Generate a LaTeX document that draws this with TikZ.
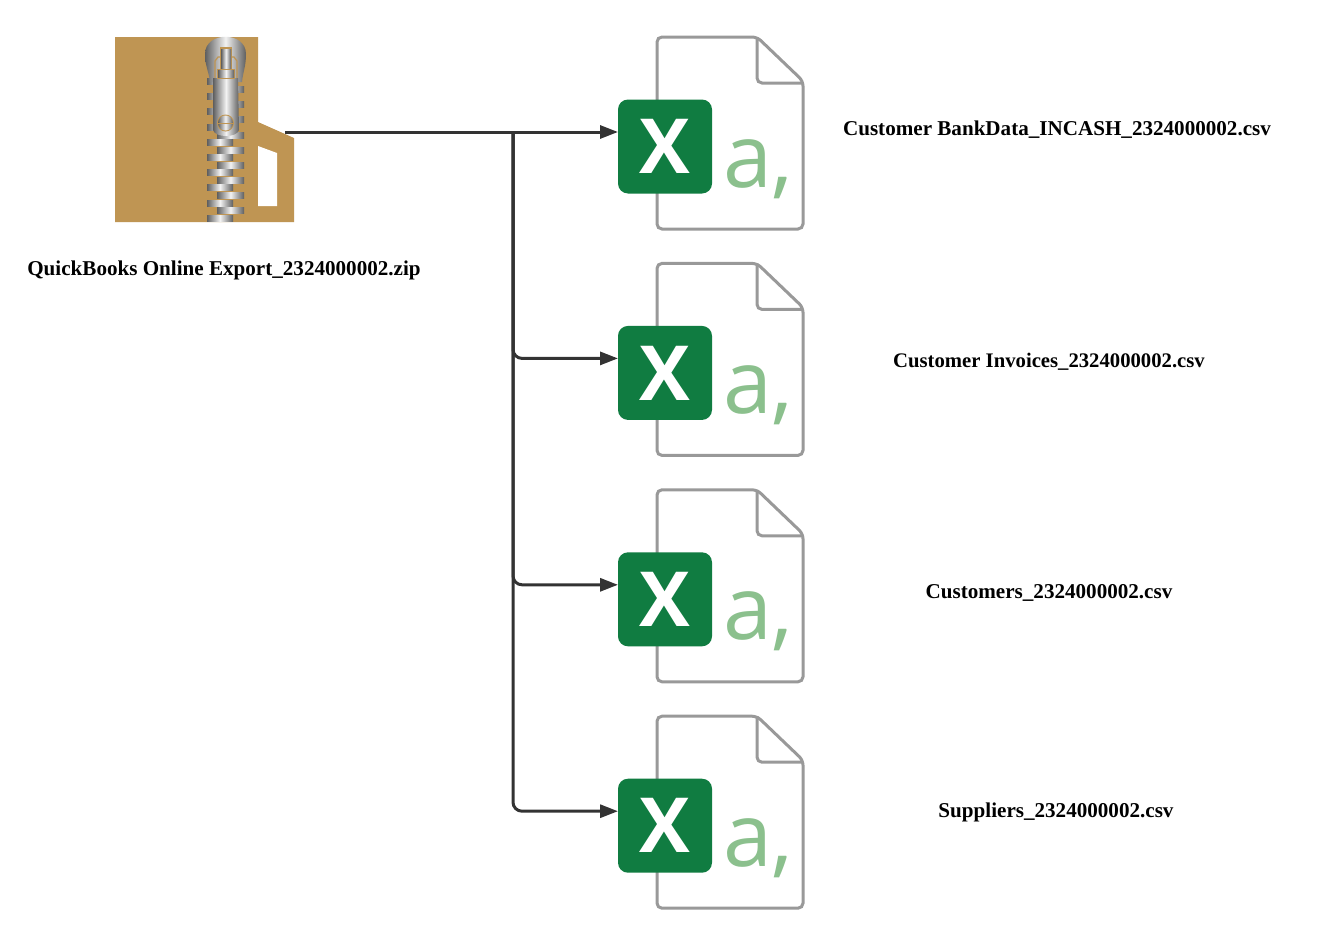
\documentclass[tikz,border=0pt]{standalone}
\usepackage{fontspec}
\setmainfont{Liberation Serif}
\newfontfamily\iconfont{Open Sans}
\usetikzlibrary{arrows.meta}
\definecolor{zipbrown}{HTML}{BF9553}
\definecolor{xlgreen}{HTML}{107C41}
\definecolor{xllight}{HTML}{8BC08D}
\definecolor{docgray}{HTML}{999999}
\definecolor{linkgray}{HTML}{333333}
\definecolor{metaldark}{HTML}{5F5F5F}
\definecolor{metallight}{HTML}{F2F2F2}
\tikzset{
  metal/.style={left color=metaldark,right color=metaldark,middle color=metallight,draw=none},
  link/.style={draw=linkgray,line width=3pt,-{Triangle[length=18pt,width=13pt]}},
  docpage/.style={draw=docgray,line width=3pt,rounded corners=5pt,fill=white},
  xlbox/.style={fill=xlgreen,rounded corners=10pt,minimum width=94pt,minimum height=94pt,inner sep=0pt},
  filename/.style={font=\bfseries\fontsize{21.1}{24}\selectfont,inner sep=0pt}
}
\begin{document}
\begin{tikzpicture}[x=1pt,y=-1pt]
  \useasboundingbox[fill=white] (0,0) rectangle (1323,945);
  % the zip folder
  \fill[zipbrown] (115,37) -- (258,37) -- (258,122) -- (294,138) -- (294,222) -- (115,222) -- cycle;
  \fill[white] (258,146) -- (277,153) -- (277,206) -- (258,206) -- cycle;
  \foreach \y in {78,93,108,124,139,154,169,184,200,215}
    \shade[metal] (207,\y) rectangle (233,\y+6.5);
  \foreach \y in {86,101,116,132,147,162,177,192,207}
    \shade[metal] (217,\y) rectangle (244,\y+6.5);
  \shade[metal] (205,54) .. controls (205,31) and (246,31) .. (246,54)
    .. controls (246,66) and (243,72) .. (242,82) -- (210,82) .. controls (209,72) and (205,66) .. (205,54) -- cycle;
  \draw[zipbrown,line width=1.2pt] (215,78) -- (215,61) -- (218,57) -- (234,57) -- (237,61) -- (237,78);
  \fill[zipbrown] (220,47) rectangle (232,69);
  \shade[metal] (221,49) rectangle (231,68);
  \shade[metal] (213,78) -- (238,78) -- (239,130) .. controls (238,134) and (232,136) .. (226,136)
    .. controls (220,136) and (214,134) .. (213,130) -- cycle;
  \fill[zipbrown] (217,69) rectangle (235,78.5);
  \shade[metal] (218,70) rectangle (234,77.5);
  \fill[zipbrown] (225.5,123) circle (8.5);
  \shade[metal] (225.5,123) circle (7.5);
  \fill[zipbrown] (217,122.5) rectangle (234,124);
  \coordinate (zipout) at (285,132);
  \node[filename] (zipname) at (224,270) {QuickBooks Online Export\_2324000002.zip};
  % the four csv files
  \foreach \i/\top/\txt/\tx/\ty in {%
    1/37/Customer BankData\_INCASH\_2324000002.csv/1057/130,
    2/263.4/{\fontsize{20.7}{24}\selectfont Customer Invoices\_2324000002.csv}/1049/362,
    3/489.8/Customers\_2324000002.csv/1049/593,
    4/716.2/Suppliers\_2324000002.csv/1056/812}
  {
    \begin{scope}[shift={(0,\top)}]
      \draw[docpage] (657,0) -- (757,0) -- (803,44) -- (803,192) -- (657,192) -- cycle;
      \draw[docgray,line width=3pt,rounded corners=5pt] (757,0) -- (757,46) -- (803,46);
      \node[xlbox] (xl\i) at (665,109.5) {};
      \node[font=\iconfont\bfseries\fontsize{76}{76}\selectfont,text=white,inner sep=0pt] (xlmark\i) at (665,109.5) {X};
      \node[font=\iconfont\fontsize{88}{88}\selectfont,text=xllight,inner sep=0pt,anchor=base west] (xlcomma\i) at (723.5,150) {a\kern-1pt,};
      \coordinate (in\i) at (618,95);
    \end{scope}
    \node[filename] (csvname\i) at (\tx,\ty) {\txt};
  }
  \coordinate (branch) at (513,132);
  % connectors
  \draw[link] (zipout) -- (in1);
  \foreach \i in {2,3,4}
    \draw[link,rounded corners=9pt] (branch) |- (in\i);
\end{tikzpicture}
\end{document}
